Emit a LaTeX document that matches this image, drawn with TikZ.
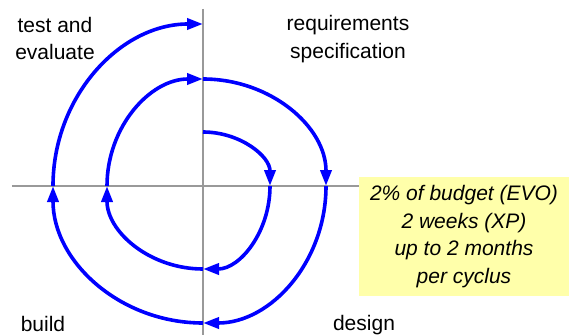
\documentclass[tikz,border=0pt]{standalone}
\usepackage{fontspec}
\setmainfont{Liberation Sans}
\usetikzlibrary{arrows.meta,positioning}
\definecolor{spiralBlue}{HTML}{0000FF}
\definecolor{axisGray}{HTML}{999999}
\definecolor{noteYellow}{HTML}{FFFFAA}

\begin{document}
\begin{tikzpicture}[x=1pt,y=1pt,>={Triangle[length=16pt,width=11pt]}]
  \tikzstyle{cyclearc}=[->,draw=spiralBlue,line width=3.6pt]
  \tikzstyle{axisline}=[draw=axisGray,line width=1.5pt]
  \tikzstyle{phaselabel}=[align=center,font=\fontsize{21}{27.5}\selectfont,inner sep=0pt]
  \useasboundingbox (-203,-149) rectangle (366,186);
  % note box and axes
  \node[fill=noteYellow,minimum width=210pt,minimum height=119pt,inner sep=0pt,
        phaselabel,font=\fontsize{21}{27.5}\selectfont\itshape] (note) at (261,-50.5)
        {2\% of budget (EVO)\\2 weeks (XP)\\up to 2 months\\per cyclus};
  \coordinate (ytop) at (0,177);
  \coordinate (ybot) at (0,-149);
  \coordinate (xleft) at (-191,0);
  \draw[axisline] (ytop) -- (ybot);
  \draw[axisline] (xleft) -- (xleft -| note.west);
  % quadrant labels
  \node[phaselabel] (test) at (-148,147.5) {test and\\evaluate};
  \node[phaselabel] (req) at (145,147) {requirements\\specification};
  \node[phaselabel] (build) at (-160,-138) {build};
  \node[phaselabel] (design) at (161,-139) {design};
  % spiral, one quarter per arrow
  \coordinate (s0) at (0,54);
  \draw[cyclearc] (s0) arc[start angle=90,end angle=0,x radius=67,y radius=54] coordinate (s1);
  \draw[cyclearc] (s1) arc[start angle=0,end angle=-90,x radius=67,y radius=83] coordinate (s2);
  \draw[cyclearc] (s2) arc[start angle=-90,end angle=-180,x radius=96,y radius=83] coordinate (s3);
  \draw[cyclearc] (s3) arc[start angle=180,end angle=90,x radius=96,y radius=107] coordinate (s4);
  \draw[cyclearc] (s4) arc[start angle=90,end angle=0,x radius=123,y radius=107] coordinate (s5);
  \draw[cyclearc] (s5) arc[start angle=0,end angle=-90,x radius=123,y radius=137] coordinate (s6);
  \draw[cyclearc] (s6) arc[start angle=-90,end angle=-180,x radius=150,y radius=137] coordinate (s7);
  \draw[cyclearc] (s7) arc[start angle=180,end angle=90,x radius=150,y radius=162] coordinate (s8);
\end{tikzpicture}
\end{document}
